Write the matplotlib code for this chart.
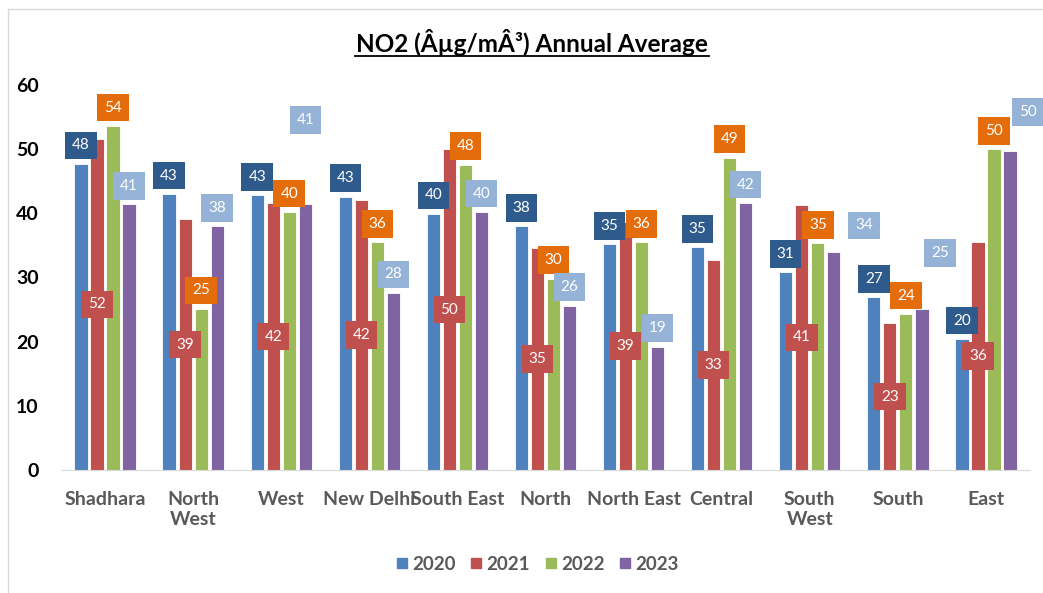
import matplotlib.pyplot as plt
import numpy as np
from matplotlib.lines import Line2D

plt.rcParams['font.family'] = ['Lato', 'DejaVu Sans']

districts = ['Shadhara', 'North\nWest', 'West', 'New Delhi', 'South East', 'North',
             'North East', 'Central', 'South\nWest', 'South', 'East']
years = ['2020', '2021', '2022', '2023']

no2_2020 = [47.7, 43.0, 42.8, 42.6, 39.9, 38.0, 35.2, 34.7, 30.8, 26.9, 20.4]
no2_2021 = [51.6, 39.1, 41.6, 42.0, 50.0, 34.6, 38.6, 32.7, 41.3, 22.9, 35.6]
no2_2022 = [53.6, 25.1, 40.2, 35.5, 47.6, 29.8, 35.5, 48.7, 35.3, 24.3, 50.0]
no2_2023 = [41.4, 38.0, 41.4, 27.6, 40.2, 25.6, 19.2, 41.6, 33.9, 25.1, 49.7]
series = [no2_2020, no2_2021, no2_2022, no2_2023]

bar_colors = ['#4F81BD', '#C0504D', '#9BBB59', '#8064A2']
label_colors = ['#2E5A8C', '#C0504D', '#E46C0A', '#95B3D7']

# 2023 labels were dragged around by hand in the original (offsets in px)
nudge_2023 = {2: (0, 84), 8: (30, 27), 9: (18, 56), 10: (18, 39)}

fig = plt.figure(figsize=(10.43, 5.93), dpi=100)
ax = fig.add_axes([61 / 1043, 1 - 470 / 593, 969 / 1043, 385 / 593])

x = np.arange(len(districts))
step = 0.182
for i, vals in enumerate(series):
    xs = x + (i - 1.5) * step
    ax.bar(xs, vals, width=0.15, color=bar_colors[i], edgecolor='white',
           linewidth=0.6, label=years[i], zorder=2)
    for j, (xx, v) in enumerate(zip(xs, vals)):
        box = dict(boxstyle='square,pad=0.45', fc=label_colors[i], ec='none')
        if i == 1:
            ax.text(xx, v / 2, f'{v:.0f}', ha='center', va='center', color='white',
                    fontsize=11, bbox=box, zorder=4)
        else:
            dx, dy = (0, 18.5)
            if i == 3 and j in nudge_2023:
                dx, dy = nudge_2023[j]
            ax.annotate(f'{v:.0f}', (xx, v), xytext=(dx * 0.72, dy * 0.72),
                        textcoords='offset points', ha='center', va='center',
                        color='white', fontsize=11, bbox=box, zorder=4)

ax.set_xlim(-0.5, len(districts) - 0.5)
ax.set_ylim(0, 60)
ax.set_yticks(range(0, 61, 10))
ax.set_xticks(x)
ax.set_xticklabels(districts, fontsize=14, fontweight='bold', color='#595959',
                   linespacing=1.2, va='top')
for t in ax.get_yticklabels():
    t.set_fontsize(14)
    t.set_fontweight('bold')
ax.tick_params(axis='both', length=0)
ax.tick_params(axis='y', pad=16)
ax.tick_params(axis='x', pad=15)
for s in ['top', 'right', 'left']:
    ax.spines[s].set_visible(False)
ax.spines['bottom'].set_color('#D9D9D9')

fig.text(532 / 1043, 1 - 43 / 593, 'NO2 (Âµg/mÂ³) Annual Average', ha='center',
         va='center', fontsize=17.5, fontweight='bold')
fig.add_artist(Line2D([355 / 1043, 709 / 1043], [1 - 56 / 593, 1 - 56 / 593],
                      color='black', lw=1.3))

# chart border (top and left remain in the crop)
fig.add_artist(Line2D([8 / 1043, 8 / 1043], [0, 1 - 9 / 593], color='#D9D9D9', lw=1))
fig.add_artist(Line2D([8 / 1043, 1], [1 - 9 / 593, 1 - 9 / 593], color='#D9D9D9', lw=1))

handles = [plt.Line2D([], [], marker='s', ls='none', markersize=7.5,
                      color=c) for c in bar_colors]
fig.legend(handles, years, loc='center', bbox_to_anchor=(535 / 1043, 1 - 564 / 593),
           ncol=4, frameon=False, handletextpad=0.0, columnspacing=0.55,
           handlelength=1.1, prop=dict(size=13.5, weight='bold'), labelcolor='#595959')

fig.savefig('out.png', dpi=100)
